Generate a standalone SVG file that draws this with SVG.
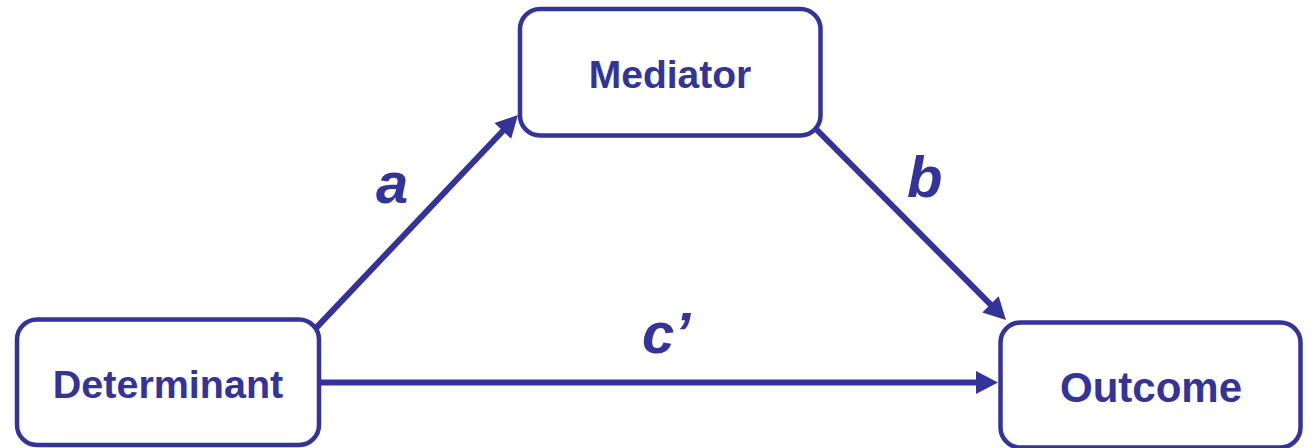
<svg xmlns="http://www.w3.org/2000/svg" width="1310" height="448" viewBox="0 0 1310 448">
<style>
.box{fill:#fff;stroke:#333399;stroke-width:4.5}
.lbl{font-family:"Liberation Sans",Arial,sans-serif;font-weight:bold;fill:#333399;text-anchor:middle}
.edge{stroke:#333399;stroke-width:6;fill:none}
.elbl{font-family:"Liberation Sans",Arial,sans-serif;font-weight:bold;font-style:italic;fill:#333399;font-size:58px}
</style>
<defs>
<marker id="ah" markerUnits="userSpaceOnUse" markerWidth="24" markerHeight="24" refX="2" refY="11.5" orient="auto" overflow="visible">
<path d="M0,0 L22,11.5 L0,23 z" fill="#333399"/>
</marker>
</defs>
<rect width="1310" height="448" fill="#fff"/>
<g id="connectors">
<line class="edge" x1="310" y1="334.4" x2="504.2" y2="129.5" marker-end="url(#ah)"/>
<line class="edge" x1="810" y1="123" x2="991.9" y2="305.8" marker-end="url(#ah)"/>
<line class="edge" x1="315" y1="382.5" x2="978" y2="382.5" marker-end="url(#ah)"/>
<text class="elbl" x="376" y="203">a</text>
<text class="elbl" x="907" y="197">b</text>
<text class="elbl" x="642" y="353">c’</text>
</g>
<g id="mediator">
<rect class="box" x="520" y="9" width="300.5" height="126.5" rx="20"/>
<text class="lbl" x="670" y="88" font-size="39">Mediator</text>
</g>
<g id="determinant">
<rect class="box" x="17" y="319.5" width="302" height="125.5" rx="20"/>
<text class="lbl" x="168" y="398" font-size="39.5">Determinant</text>
</g>
<g id="outcome">
<rect class="box" x="1000.5" y="322.5" width="300" height="125" rx="20"/>
<text class="lbl" x="1151" y="401.5" font-size="42">Outcome</text>
</g>
</svg>
